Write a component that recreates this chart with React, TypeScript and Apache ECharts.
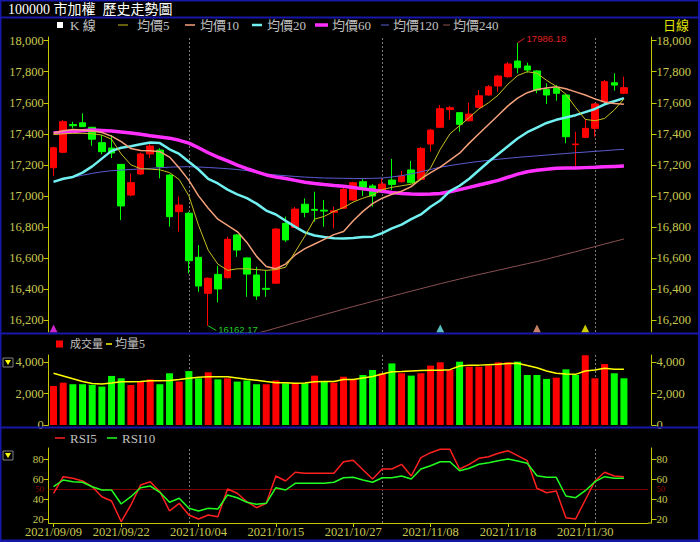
import React, { useEffect, useRef } from 'react';
import * as echarts from 'echarts';

// ---------------- data ----------------
const dates = ['2021/09/09','2021/09/10','2021/09/13','2021/09/14','2021/09/15','2021/09/16','2021/09/17','2021/09/22','2021/09/23','2021/09/24','2021/09/27','2021/09/28','2021/09/29','2021/09/30','2021/10/01','2021/10/04','2021/10/05','2021/10/06','2021/10/07','2021/10/08','2021/10/12','2021/10/13','2021/10/14','2021/10/15','2021/10/18','2021/10/19','2021/10/20','2021/10/21','2021/10/22','2021/10/25','2021/10/26','2021/10/27','2021/10/28','2021/10/29','2021/11/01','2021/11/02','2021/11/03','2021/11/04','2021/11/05','2021/11/08','2021/11/09','2021/11/10','2021/11/11','2021/11/12','2021/11/15','2021/11/16','2021/11/17','2021/11/18','2021/11/19','2021/11/22','2021/11/23','2021/11/24','2021/11/25','2021/11/26','2021/11/29','2021/11/30','2021/12/01','2021/12/02','2021/12/03','2021/12/06'];
const padCategories = ['pad1', 'pad2'];
const labelIndices = [0, 7, 15, 23, 31, 39, 47, 55];
const monthStarts = ['2021/10/01', '2021/11/01', '2021/12/01'];

const open = [17181,17281,17460,17471,17442,17343,17308,17203,17005,17141,17270,17295,17134,16898,16888,16604,16372,16494,16473,16748,16600,16490,16404,16437,16823,16797,16946,16913,16908,16894,16920,16973,17091,17064,17033,17102,17091,17167,17107,17334,17442,17556,17536,17484,17571,17650,17708,17768,17869,17837,17805,17686,17697,17650,17330,17377,17435,17607,17729,17661];
const close = [17310,17478,17452,17446,17365,17285,17276,16935,17085,17270,17321,17188,16866,16941,16582,16419,16469,16400,16720,16651,16496,16355,16398,16786,16716,16915,16894,16907,16902,16904,17042,17085,17055,16999,17076,17074,17128,17085,17306,17424,17562,17568,17461,17527,17645,17703,17772,17850,17826,17811,17682,17650,17661,17381,17334,17435,17592,17736,17714,17697];
const low = [17128,17275,17435,17444,17323,17268,17244,16844,16998,17135,17244,17113,16801,16769,16501,16382,16162.17,16314,16468,16608,16350,16329,16350,16432,16703,16793,16862,16833,16801,16791,16915,16968,16999,16930,17028,17038,17085,17080,17102,17285,17438,17493,17413,17480,17566,17645,17671,17760,17790,17794,17661,17592,17613,17339,17184,17372,17381,17600,17678,17655];
const high = [17317,17489,17478,17532,17445,17392,17392,17205,17145,17278,17334,17308,17141,16995,16896,16683,16475,16550,16737,16754,16604,16543,16522,16793,16866,16928,16984,17027,16973,16930,17051,17091,17107,17076,17113,17238,17160,17225,17315,17430,17585,17579,17540,17600,17682,17714,17780,17863,17986.18,17858,17810,17725,17714,17655,17413,17493,17598,17747,17790,17768];

const ma5 = [17395,17400,17403,17403,17400,17392,17365,17270,17200,17175,17172,17168,17150,17105,17000,16810,16650,16560,16520,16530,16530,16525,16520,16525,16540,16640,16740,16850,16868,16900,16925,16960,16985,17005,17040,17055,17065,17075,17105,17180,17300,17400,17452,17505,17560,17600,17650,17720,17775,17800,17790,17745,17705,17655,17570,17493,17484,17499,17553,17625];
const ma10 = [17405,17420,17428,17425,17418,17408,17385,17350,17305,17292,17290,17285,17250,17180,17100,17000,16920,16850,16810,16770,16700,16610,16545,16530,16560,16620,16660,16690,16720,16750,16770,16840,16900,16950,16985,17010,17030,17060,17110,17150,17185,17230,17275,17340,17400,17460,17520,17580,17630,17665,17685,17695,17703,17690,17670,17650,17625,17605,17595,17590];
const ma20 = [17090,17110,17122,17150,17190,17240,17290,17310,17320,17332,17344,17340,17300,17270,17220,17170,17110,17080,17040,17010,16985,16950,16905,16880,16840,16800,16765,16745,16735,16727,16725,16728,16735,16737,16760,16790,16815,16850,16880,16930,16970,17030,17065,17110,17165,17220,17270,17320,17370,17410,17440,17470,17490,17505,17520,17540,17560,17590,17610,17630];
const ma60 = [17405,17410,17415,17420,17424,17422,17418,17412,17405,17397,17388,17380,17372,17358,17340,17310,17278,17250,17225,17198,17175,17155,17135,17122,17112,17100,17088,17080,17073,17067,17062,17054,17045,17038,17030,17022,17015,17012,17010,17012,17015,17027,17040,17055,17070,17085,17100,17120,17140,17155,17165,17172,17178,17180,17180,17182,17184,17187,17190,17192];
const ma120 = [17095,17108,17120,17133,17145,17155,17162,17166,17170,17174,17177,17181,17185,17187,17188,17186,17183,17179,17175,17170,17163,17152,17140,17135,17130,17125,17121,17118,17115,17114,17113,17112,17112,17113,17115,17122,17130,17142,17155,17170,17185,17195,17205,17214,17222,17229,17236,17242,17248,17253,17258,17263,17268,17273,17278,17282,17287,17291,17296,17300];
const ma240 = [15760,15777,15794,15811,15828,15845,15862,15879,15896,15913,15930,15947,15964,15981,15998,16015,16032,16049,16066,16083,16100,16115,16130,16148,16165,16183,16200,16218,16235,16252,16270,16287,16303,16320,16337,16353,16370,16386,16402,16418,16434,16449,16464,16479,16493,16507,16521,16535,16549,16563,16577,16592,16608,16624,16640,16657,16673,16690,16706,16722];

const volume = [2490,2700,2600,2600,2560,2450,3130,2980,2550,2760,2910,2600,3300,2770,3440,2980,3360,2910,2980,2770,2840,2600,2600,2840,2660,2660,2660,3150,2770,2700,3080,2870,3190,3510,3300,3930,3300,3150,3300,3790,4000,3510,4040,3720,3720,3790,4000,4000,4040,3190,3190,2940,3020,3550,3190,4450,2980,3890,3300,2980];
// 1 = red bar, 0 = green bar (as drawn)
const volumeRed = [1,1,0,0,0,0,0,0,1,1,1,0,0,1,0,0,1,0,1,0,0,0,1,1,0,1,0,1,0,1,1,1,0,0,1,0,1,0,1,1,1,1,0,1,1,1,1,1,0,0,0,0,1,0,0,1,1,1,0,0];
const volumeMa5 = [3300,3130,2950,2780,2650,2620,2680,2760,2760,2780,2820,2830,2840,2900,2980,3050,3080,3080,3080,3000,2920,2850,2770,2700,2690,2660,2680,2760,2780,2770,2900,2900,3000,3100,3250,3400,3420,3450,3480,3500,3500,3530,3760,3820,3820,3850,3880,3920,3940,3800,3650,3450,3300,3250,3230,3450,3510,3620,3560,3550];

const rsi5 = [46,62.6,61,58.3,52.6,42.6,38.3,17.6,34.3,54.3,57.6,47.6,28.3,36,24.3,20.3,24.3,22.6,50.3,46,37.6,31.6,36,63.3,58.3,67,66,66,66,66,77.6,79,69.5,60.3,70.3,70.3,75,63.3,81.6,86.6,90,90,70.3,75,81,82.6,86,88.6,83.6,78.6,51,46.6,48.3,21.6,20.3,39.3,58.3,67,63.3,62.6];
const rsi10 = [52.6,59.3,57.6,57,52.6,49.3,49.3,35.3,42.6,51.6,53.3,47,37,41,31,28.3,31,30.3,44.3,41.6,37,35,36,51.6,49.3,56,56,56,56,57,61.6,62,59.3,57,61.6,61.6,63.3,60.3,70.3,73.6,77.6,77.6,68.6,71,75,76.6,78.6,80.3,78.3,76,63.6,62,62,43.3,41.6,48.6,57.6,62.6,61,61];

const priceTicks = [16200,16400,16600,16800,17000,17200,17400,17600,17800,18000];
const volumeTicks = [0, 2000, 4000];
const rsiTicks = [20, 40, 60, 80];
const rsiLabelTicks = [20, 40, 50, 60, 80];

const signalIdx = [0, 40, 50, 55];
const signalColors = ['#ff30ff', '#70f0f0', '#f4a07a', '#ffff00'];
const HI_IDX = 48;
const LO_IDX = 16;

// ---------------- styles ----------------
const SERIF = "'Liberation Serif', 'Noto Sans CJK TC', serif";
const SANS = "'Liberation Sans', Arial, sans-serif";
const AXIS_LINE = '#c8c800';
const AXIS_TEXT = '#c8c850';
const LEGEND_TEXT = '#c0c0c0';
const BLUE = '#1818a8';
const UP = '#ff0000';
const DOWN = '#00ff00';
const C_MA5 = '#c8c020';
const C_MA10 = '#f4a07a';
const C_MA20 = '#70f0f0';
const C_MA60 = '#ff30ff';
const C_MA120 = '#5a5ad2';
const C_MA240 = '#8a5050';

const GRID_LEFT = 48.7;
const GRID_W = 599.4;
const RIGHT_OFFSET = 3.5;

const cats = [...dates, ...padCategories];
const showLabel = (i: number) => labelIndices.includes(i);
const fmtNum = (v: number) => Number(v).toLocaleString('en-US');

function yAxisPair(grid: number, min: number, max: number, ticks: number[], labelVals: number[], extraLabel: any = {}) {
  const base = (pos: 'left' | 'right') => ({
    type: 'value',
    gridIndex: grid,
    position: pos,
    offset: pos === 'right' ? RIGHT_OFFSET : 0,
    min,
    max,
    scale: true,
    axisLine: { show: true, onZero: false, lineStyle: { color: AXIS_LINE, width: 1 } },
    axisTick: { show: true, length: 5, customValues: ticks, lineStyle: { color: AXIS_LINE } },
    axisLabel: {
      show: true,
      customValues: labelVals,
      formatter: (v: number) => fmtNum(v),
      color: AXIS_TEXT,
      fontFamily: SERIF,
      fontSize: 12.5,
      margin: 5,
      ...extraLabel,
    },
    splitLine: { show: false },
  });
  return [base('left'), base('right')];
}

// RSI labels: the 50 level is printed smaller, in dark red, between 40 and 60
const rsiLabelExtra = {
  fontSize: 11,
  formatter: (v: number) => (Number(v) === 50 ? '{mid|50}' : String(v)),
  rich: { mid: { color: '#900000', fontSize: 8.5, fontFamily: SERIF } },
};

const dottedMonthMarks = {
  silent: true,
  z: 1,
  symbol: ['none', 'none'],
  label: { show: false },
  lineStyle: { color: '#7a7a7a', type: [2, 2], width: 1 },
  data: monthStarts.map((d) => ({ xAxis: d })),
};

// empty carrier series so the dotted month lines sit behind the marks
const monthCarrier = (xi: number, yi: number) => ({
  type: 'line',
  xAxisIndex: xi,
  yAxisIndex: yi,
  data: [],
  symbol: 'none',
  z: 0,
  markLine: dottedMonthMarks,
});

const maLine = (name: string, data: number[], color: string, width: number) => ({
  name,
  type: 'line',
  xAxisIndex: 0,
  yAxisIndex: 0,
  data,
  symbol: 'none',
  smooth: false,
  clip: true,
  lineStyle: { color, width },
  z: 3,
});

const option: any = {
  animation: false,
  backgroundColor: '#000000',
  grid: [
    { left: GRID_LEFT, width: GRID_W, top: 37, height: 295 },
    { left: GRID_LEFT, width: GRID_W, top: 355, height: 70 },
    { left: GRID_LEFT, width: GRID_W, top: 448, height: 75 },
  ],
  xAxis: [
    { type: 'category', gridIndex: 0, data: cats, boundaryGap: true, show: false },
    { type: 'category', gridIndex: 1, data: cats, boundaryGap: true, show: false },
    {
      type: 'category',
      gridIndex: 2,
      data: cats,
      boundaryGap: true,
      axisLine: { show: true, lineStyle: { color: AXIS_LINE } },
      axisTick: { show: true, alignWithLabel: true, length: 4, interval: (i: number) => showLabel(i), lineStyle: { color: AXIS_LINE } },
      axisLabel: { interval: (i: number) => showLabel(i), color: AXIS_TEXT, fontFamily: SERIF, fontSize: 12.5, margin: 3 },
      splitLine: { show: false },
    },
  ],
  yAxis: [
    ...yAxisPair(0, 16122.7, 18023.8, priceTicks, priceTicks),
    ...yAxisPair(1, 0, 4466, volumeTicks, volumeTicks),
    ...yAxisPair(2, 16.3, 91.3, rsiTicks, rsiLabelTicks, rsiLabelExtra),
  ],
  series: [
    monthCarrier(0, 0),
    monthCarrier(1, 2),
    monthCarrier(2, 4),
    {
      name: 'K 線',
      type: 'candlestick',
      xAxisIndex: 0,
      yAxisIndex: 0,
      barWidth: 7,
      data: open.map((o, i) => [o, close[i], low[i], high[i]]),
      itemStyle: { color: UP, color0: DOWN, borderColor: UP, borderColor0: DOWN, borderWidth: 1 },
      z: 2,
    },
    maLine('均價240', ma240, C_MA240, 1),
    maLine('均價120', ma120, C_MA120, 1),
    maLine('均價60', ma60, C_MA60, 3.5),
    maLine('均價20', ma20, C_MA20, 2.5),
    maLine('均價10', ma10, C_MA10, 1.5),
    maLine('均價5', ma5, C_MA5, 1),
    {
      name: 'signals',
      type: 'scatter',
      xAxisIndex: 0,
      yAxisIndex: 0,
      symbol: 'triangle',
      symbolSize: [8, 8],
      data: signalIdx.map((ix, k) => ({ value: [ix, 16146], itemStyle: { color: signalColors[k] } })),
      z: 5,
    },
    {
      name: '成交量',
      type: 'bar',
      xAxisIndex: 1,
      yAxisIndex: 2,
      barWidth: 7,
      data: volume.map((v, i) => ({ value: v, itemStyle: { color: volumeRed[i] ? UP : DOWN } })),
      z: 2,
    },
    {
      name: '均量5',
      type: 'line',
      xAxisIndex: 1,
      yAxisIndex: 2,
      data: volumeMa5,
      symbol: 'none',
      lineStyle: { color: '#ffff00', width: 1.5 },
      z: 4,
    },
    {
      name: 'RSI5',
      type: 'line',
      xAxisIndex: 2,
      yAxisIndex: 4,
      data: rsi5,
      symbol: 'none',
      lineStyle: { color: '#ff2020', width: 1.5 },
      markLine: {
        silent: true,
        z: 1,
        symbol: ['none', 'none'],
        label: { show: false },
        data: [{ yAxis: 50, lineStyle: { color: '#800000', type: 'solid', width: 1 } }],
      },
      z: 4,
    },
    {
      name: 'RSI10',
      type: 'line',
      xAxisIndex: 2,
      yAxisIndex: 4,
      data: rsi10,
      symbol: 'none',
      lineStyle: { color: '#20ff20', width: 1.5 },
      z: 4,
    },
  ],
};

function txt(x: number, y: number, text: string, fill: string, size: number, family = SERIF, align = 'left') {
  return { type: 'text', x, y, z: 50, style: { text, fill, fontSize: size, fontFamily: family, align, verticalAlign: 'middle' } };
}
function dash(x1: number, x2: number, y: number, color: string, w: number) {
  return { type: 'line', z: 50, shape: { x1, y1: y, x2, y2: y }, style: { stroke: color, lineWidth: w } };
}
function frameRect(x: number, y: number, width: number, height: number) {
  return { type: 'rect', z: 100, shape: { x, y, width, height }, style: { fill: BLUE } };
}
function dropBox(y: number) {
  return [
    { type: 'rect', z: 50, shape: { x: 3, y, width: 10, height: 9 }, style: { fill: '#000', stroke: '#808080', lineWidth: 1 } },
    { type: 'polygon', z: 51, shape: { points: [[5, y + 2], [11, y + 2], [8, y + 7]] }, style: { fill: '#ffff00' } },
  ];
}

function baseGraphic() {
  return [
    // frame
    frameRect(0, 0, 700, 1.5),
    frameRect(0, 16.5, 700, 2),
    frameRect(0, 332.5, 700, 2),
    frameRect(0, 426.5, 700, 2),
    frameRect(0, 539.5, 700, 2.5),
    frameRect(0, 0, 1.5, 542),
    frameRect(698, 0, 2, 542),
    // title
    txt(8, 9, '100000 市加權  歷史走勢圖', '#ffffff', 14),
    // main legend
    { type: 'rect', z: 50, shape: { x: 57, y: 22, width: 6, height: 6 }, style: { fill: '#ffffff' } },
    txt(70, 25, 'K 線', LEGEND_TEXT, 13),
    dash(118, 128, 25, C_MA5, 1),
    txt(137, 25, '均價5', LEGEND_TEXT, 13),
    dash(185, 195, 25, C_MA10, 1.5),
    txt(200, 25, '均價10', LEGEND_TEXT, 13),
    dash(252, 262, 25, C_MA20, 2.5),
    txt(267, 25, '均價20', LEGEND_TEXT, 13),
    dash(315, 328, 25, C_MA60, 3.5),
    txt(332, 25, '均價60', LEGEND_TEXT, 13),
    dash(381, 389, 25, C_MA120, 1),
    txt(393, 25, '均價120', LEGEND_TEXT, 13),
    dash(443, 450, 25, C_MA240, 1),
    txt(453, 25, '均價240', LEGEND_TEXT, 13),
    txt(663, 25, '日線', '#e0e000', 13),
    // volume legend
    { type: 'rect', z: 50, shape: { x: 56, y: 340.5, width: 7, height: 7 }, style: { fill: UP } },
    txt(70, 344, '成交量', LEGEND_TEXT, 11),
    dash(106, 112, 344, '#ffff00', 1.5),
    txt(115, 344, '均量5', LEGEND_TEXT, 12),
    // rsi legend
    dash(55, 65, 438, '#ff2020', 1.5),
    txt(70, 438, 'RSI5', LEGEND_TEXT, 13),
    dash(107, 117, 438, '#20ff20', 1.5),
    txt(122, 438, 'RSI10', LEGEND_TEXT, 13),
    ...dropBox(358),
    ...dropBox(451),
    // extend RSI x axis line to the offset right axis
    { type: 'line', z: 40, shape: { x1: GRID_LEFT + GRID_W, y1: 523, x2: GRID_LEFT + GRID_W + RIGHT_OFFSET, y2: 523 }, style: { stroke: AXIS_LINE, lineWidth: 1 } },
  ];
}

export default function App() {
  const ref = useRef<HTMLDivElement>(null);
  useEffect(() => {
    if (!ref.current) return;
    const chart = echarts.init(ref.current, null, { renderer: 'svg' });
    chart.setOption(option);
    const hp = chart.convertToPixel({ gridIndex: 0 }, [HI_IDX, high[HI_IDX]]) as number[];
    const lp = chart.convertToPixel({ gridIndex: 0 }, [LO_IDX, low[LO_IDX]]) as number[];
    const annotations: any[] = [];
    if (hp && lp) {
      annotations.push(
        { type: 'line', z: 60, shape: { x1: hp[0], y1: hp[1], x2: hp[0] + 7, y2: hp[1] - 4.5 }, style: { stroke: '#e02020', lineWidth: 1 } },
        txt(hp[0] + 9, hp[1] - 4, high[HI_IDX].toFixed(2), '#e02020', 9.5, SANS),
        { type: 'line', z: 60, shape: { x1: lp[0], y1: lp[1], x2: lp[0] + 8, y2: lp[1] + 4.5 }, style: { stroke: '#20d020', lineWidth: 1 } },
        txt(lp[0] + 10, lp[1] + 4, low[LO_IDX].toFixed(2), '#20d020', 9.5, SANS),
      );
    }
    chart.setOption({ graphic: [...baseGraphic(), ...annotations] });
    return () => chart.dispose();
  }, []);
  return <div ref={ref} style={{ position: 'fixed', left: 0, top: 0, width: 700, height: 542, background: '#000' }} />;
}
